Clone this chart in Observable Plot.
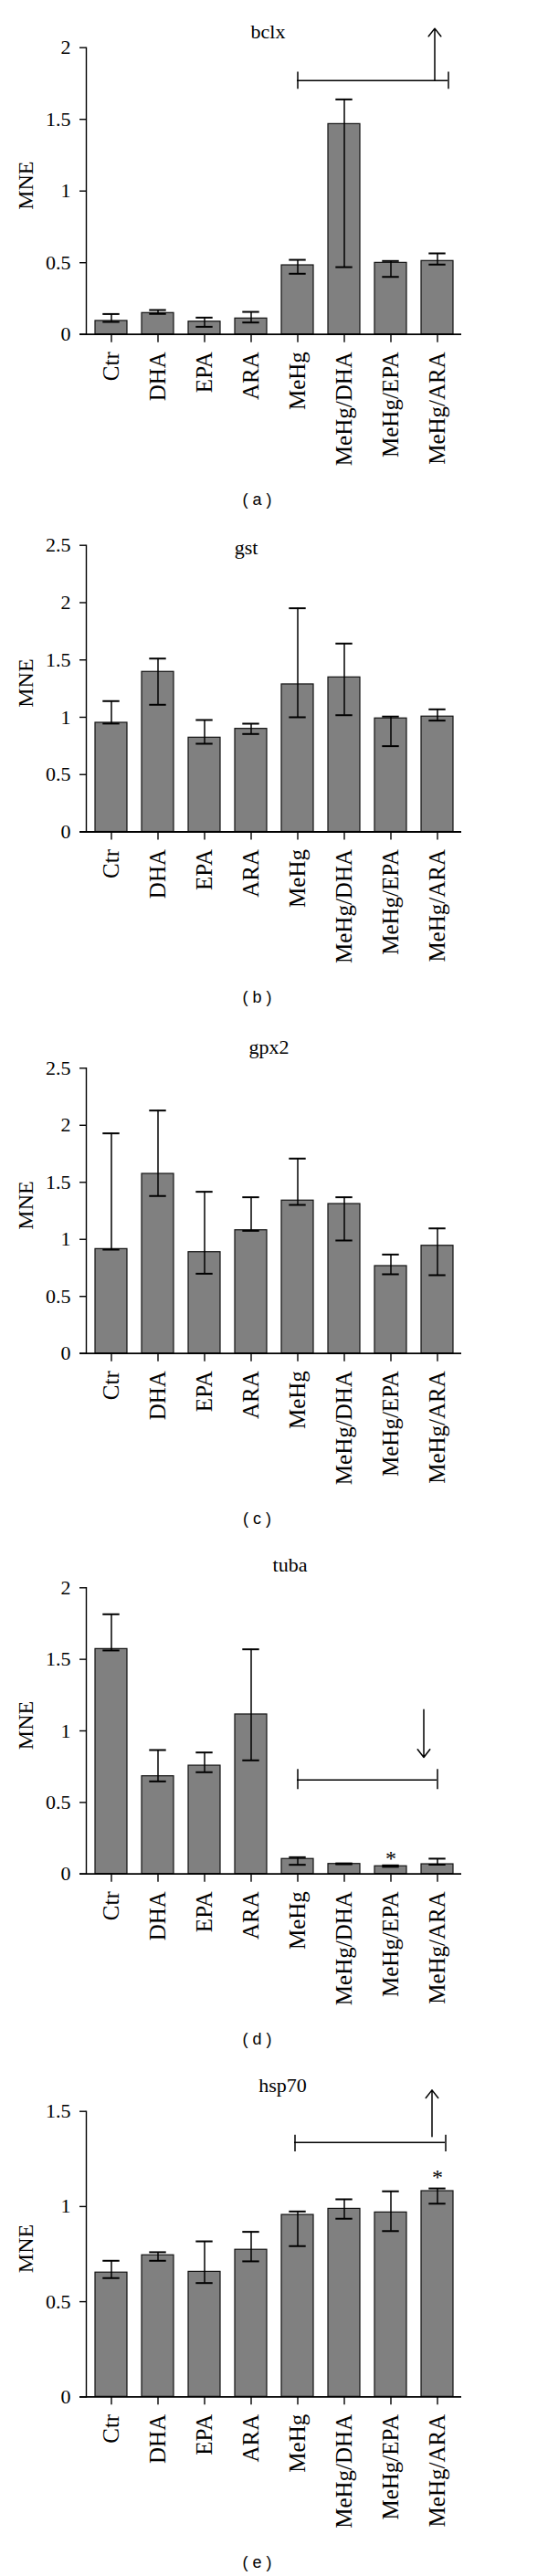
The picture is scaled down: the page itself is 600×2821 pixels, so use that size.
<!DOCTYPE html>
<html><head><meta charset="utf-8">
<script src="https://cdn.jsdelivr.net/npm/d3@7"></script>
<script src="https://cdn.jsdelivr.net/npm/@observablehq/plot@0.6"></script>
<style>
html,body{margin:0;padding:0;background:#fff;}
#root{width:600px;}
#root svg{display:block;}
</style></head><body><div id="root"></div>
<script>
const categories = ["Ctr","DHA","EPA","ARA","MeHg","MeHg/DHA","MeHg/EPA","MeHg/ARA"];

const bclxMean = [0.094,0.149,0.089,0.111,0.482,1.467,0.499,0.512];
const bclxLow  = [0.087,0.143,0.053,0.083,0.423,0.469,0.401,0.487];
const bclxHigh = [0.142,0.170,0.117,0.157,0.520,1.639,0.512,0.565];
const bclxTicks = [0,0.5,1,1.5,2];

const gstMean = [0.952,1.396,0.822,0.899,1.287,1.348,0.990,1.006];
const gstLow  = [0.945,1.109,0.769,0.854,1.000,1.018,0.748,0.971];
const gstHigh = [1.141,1.512,0.976,0.944,1.951,1.643,1.006,1.069];
const gstTicks = [0,0.5,1,1.5,2,2.5];

const gpx2Mean = [0.915,1.574,0.888,1.080,1.340,1.310,0.766,0.944];
const gpx2Low  = [0.910,1.380,0.699,1.075,1.302,0.990,0.694,0.686];
const gpx2High = [1.929,2.129,1.417,1.369,1.708,1.369,0.867,1.096];
const gpx2Ticks = [0,0.5,1,1.5,2,2.5];

const tubaMean = [1.572,0.683,0.757,1.115,0.105,0.070,0.054,0.068];
const tubaLow  = [1.562,0.647,0.711,0.794,0.064,0.068,0.050,0.065];
const tubaHigh = [1.815,0.866,0.849,1.570,0.117,0.074,0.060,0.107];
const tubaTicks = [0,0.5,1,1.5,2];

const hsp70Mean = [0.653,0.744,0.657,0.773,0.956,0.988,0.969,1.081];
const hsp70Low  = [0.624,0.715,0.598,0.712,0.792,0.936,0.871,1.015];
const hsp70High = [0.715,0.760,0.817,0.867,0.974,1.038,1.080,1.095];
const hsp70Ticks = [0,0.5,1,1.5];

// annotations (values in MNE units)
const bclxBracket = [{a:"MeHg", b:"MeHg/ARA", y:1.771, lo:1.71, hi:1.83}];
const bclxArrow = [{cat:"MeHg/ARA", from:1.771, to:2.134}];
const tubaBracket = [{a:"MeHg", b:"MeHg/ARA", y:0.657, lo:0.590, hi:0.730}];
const tubaArrow = [{cat:"MeHg/ARA", from:1.149, to:0.815}];
const tubaStars = [{cat:"MeHg/EPA", y:0.138}];
const hsp70Bracket = [{a:"MeHg", b:"MeHg/ARA", y:1.337, lo:1.287, hi:1.375}];
const hsp70Arrow = [{cat:"MeHg/ARA", from:1.368, to:1.612}];
const hsp70Stars = [{cat:"MeHg/ARA", y:1.177}];

const panels = [
  {gene:"bclx", caption:"( a )", mean:bclxMean, low:bclxLow, high:bclxHigh, ticks:bclxTicks, max:2,
   height:565, mt:51.7, mb:199.3, titleDx:199, titleDy:-10,
   bracket:bclxBracket, bInL:17, bInR:6, bracketDxA:0, bracketDxB:12, arrow:bclxArrow, arrowDx:-3, stars:[]},
  {gene:"gst", caption:"( b )", mean:gstMean, low:gstLow, high:gstHigh, ticks:gstTicks, max:2.5,
   height:555, mt:31.7, mb:209.5, titleDx:175, titleDy:10, stars:[]},
  {gene:"gpx2", caption:"( c )", mean:gpx2Mean, low:gpx2Low, high:gpx2High, ticks:gpx2Ticks, max:2.5,
   height:570, mt:49.3, mb:208.3, titleDx:200, titleDy:-16, stars:[]},
  {gene:"tuba", caption:"( d )", mean:tubaMean, low:tubaLow, high:tubaHigh, ticks:tubaTicks, max:2,
   height:570, mt:48.3, mb:208.3, titleDx:223, titleDy:-17.6,
   bracket:tubaBracket, bInL:17, bInR:18, bracketDxA:0, bracketDxB:0, arrow:tubaArrow, arrowDx:-15, stars:tubaStars},
  {gene:"hsp70", caption:"( e )", mean:hsp70Mean, low:hsp70Low, high:hsp70High, ticks:hsp70Ticks, max:1.5,
   height:561, mt:51.7, mb:196.7, titleDx:215, titleDy:-21.7,
   bracket:hsp70Bracket, bInL:14, bInR:9, bracketDxA:-3, bracketDxB:9, arrow:hsp70Arrow, arrowDx:-6, stars:hsp70Stars}
];

const serif = "'Liberation Serif','Times New Roman',serif";
const root = document.getElementById("root");

for (const p of panels) {
  const data = categories.map((c, i) => ({cat: c, mean: p.mean[i], lo: p.low[i], hi: p.high[i]}));
  const marks = [
    Plot.barY(data, {x: "cat", y: "mean", fill: "#808080", stroke: "#111", strokeWidth: 1.2}),
    Plot.ruleX(data, {x: "cat", y1: "lo", y2: "hi", stroke: "#000", strokeWidth: 1.5}),
    Plot.tickY(data, {x: "cat", y: "hi", insetLeft: 8.3, insetRight: 8.3, stroke: "#000", strokeWidth: 2}),
    Plot.tickY(data, {x: "cat", y: "lo", insetLeft: 8.3, insetRight: 8.3, stroke: "#000", strokeWidth: 2}),
    Plot.ruleY([0], {insetLeft: -7, stroke: "#000", strokeWidth: 1.8}),
    Plot.frame({anchor: "left", stroke: "#000", strokeWidth: 1.4}),
    Plot.axisY({ticks: p.ticks, tickFormat: d => String(d), tickSize: 7, tickPadding: 10, fontSize: 22, strokeWidth: 1.4, label: null}),
    Plot.axisX({tickSize: 9, tickPadding: 10, tickRotate: -90, fontSize: 25, strokeWidth: 1.4, label: null}),
    Plot.text(["MNE"], {frameAnchor: "left", rotate: -90, dx: -75.5, dy: -6, textAnchor: "middle", lineAnchor: "top", fontSize: 24}),
    Plot.text([p.gene], {frameAnchor: "top-left", dx: p.titleDx, dy: p.titleDy, lineAnchor: "bottom", textAnchor: "middle", fontSize: 22}),
    Plot.text([p.caption], {frameAnchor: "bottom-left", dx: 187, dy: 187, lineAnchor: "bottom", textAnchor: "middle", fontSize: 18, fontFamily: "'Liberation Sans',Arial,sans-serif"})
  ];
  if (p.bracket) {
    marks.push(
      Plot.ruleY(p.bracket, {x1: "a", x2: "b", y: "y", insetLeft: p.bInL, insetRight: p.bInR, stroke: "#000", strokeWidth: 1.5}),
      Plot.ruleX(p.bracket, {x: "a", y1: "lo", y2: "hi", dx: p.bracketDxA, stroke: "#000", strokeWidth: 1.5}),
      Plot.ruleX(p.bracket, {x: "b", y1: "lo", y2: "hi", dx: p.bracketDxB, stroke: "#000", strokeWidth: 1.5})
    );
  }
  if (p.arrow) {
    marks.push(Plot.arrow(p.arrow, {x1: "cat", x2: "cat", y1: "from", y2: "to", dx: p.arrowDx, stroke: "#000", strokeWidth: 1.5, headLength: 11, headAngle: 76}));
  }
  if (p.stars.length) {
    marks.push(Plot.text(p.stars, {x: "cat", y: "y", text: d => "*", fontSize: 24, lineAnchor: "middle", dy: 4.5}));
  }
  const svg = Plot.plot({
    width: 600,
    height: p.height,
    marginLeft: 94,
    marginRight: 95,
    marginTop: p.mt,
    marginBottom: p.mb,
    style: {fontFamily: serif, color: "#000", background: "#fff", overflow: "visible"},
    x: {type: "band", domain: categories, paddingInner: 0.32, paddingOuter: 0.16},
    y: {domain: [0, p.max]},
    marks
  });
  root.appendChild(svg);
}
</script></body></html>
